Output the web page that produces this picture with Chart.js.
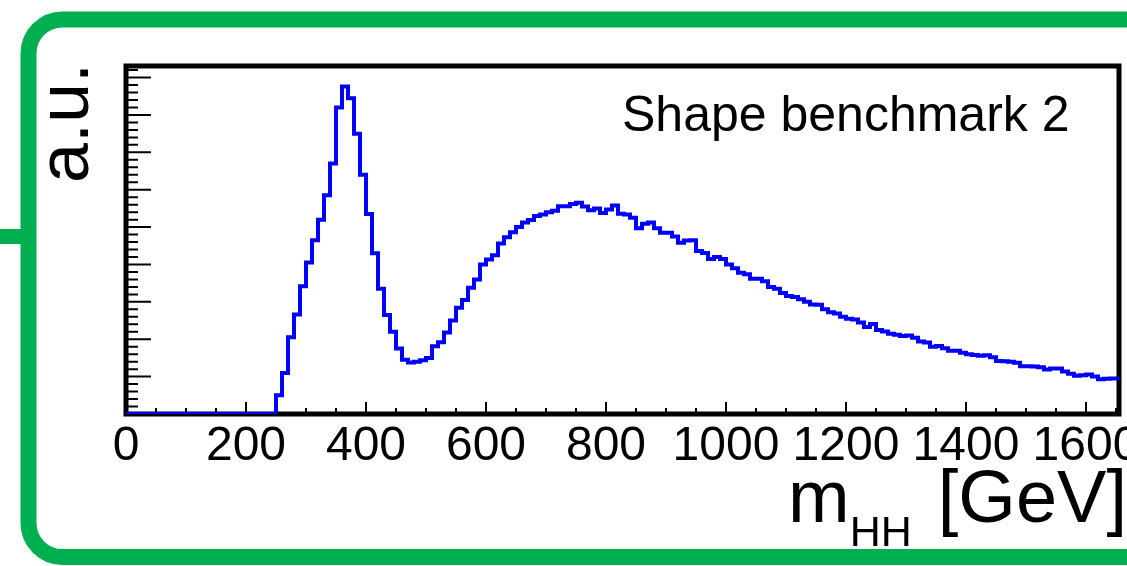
<!DOCTYPE html>
<html>
<head>
<meta charset="utf-8">
<script src="https://cdn.jsdelivr.net/npm/chart.js@4/dist/chart.umd.min.js"></script>
<style>
  html, body { margin: 0; padding: 0; background: #fff; }
  canvas { display: block; }
</style>
</head>
<body>
<canvas id="mhhChart" width="1127" height="566"></canvas>
<script>
const FONT = '"Liberation Sans", Arial, Helvetica, sans-serif';
const GREEN = '#00b050';

/* ===== DATA ===== */
const BIN_WIDTH = 10; // GeV per bin, first bin starts at 0
// m_HH shape (a.u.), one value per 10 GeV bin
const shapeValues = [
  0, 0, 0, 0, 0, 0, 0, 0, 0, 0, 0, 0, 0, 0, 0, 0, 0, 0, 0, 0, 0, 0, 0, 0, 0,
  0.5, 1.1, 2.05, 2.66, 3.42, 4.05, 4.65, 5.2, 5.85, 6.7,
  8.2, 8.76, 8.45, 7.5, 6.4, 5.35, 4.3, 3.35, 2.65, 2.2,
  1.75, 1.45, 1.38, 1.4, 1.44, 1.5, 1.81, 1.92, 2.18, 2.5,
  2.84, 3.05, 3.38, 3.6, 4.0, 4.13, 4.25, 4.56, 4.73, 4.86,
  5.0, 5.12, 5.19, 5.3, 5.34, 5.4, 5.44, 5.56, 5.56, 5.62,
  5.65, 5.55, 5.45, 5.5, 5.38, 5.47, 5.58, 5.36, 5.34, 5.25,
  4.97, 5.09, 5.12, 4.97, 4.85, 4.85, 4.75, 4.58, 4.64, 4.65,
  4.36, 4.31, 4.15, 4.2, 4.15, 4.0, 3.9, 3.78, 3.74, 3.62,
  3.62, 3.55, 3.4, 3.35, 3.24, 3.16, 3.13, 3.07, 3.0, 2.93,
  2.92, 2.8, 2.72, 2.69, 2.6, 2.55, 2.53, 2.45, 2.33, 2.41,
  2.25, 2.21, 2.15, 2.12, 2.09, 2.1, 2.04, 1.94, 1.91, 1.8,
  1.82, 1.76, 1.69, 1.69, 1.64, 1.6, 1.58, 1.56, 1.57, 1.52,
  1.42, 1.41, 1.4, 1.37, 1.28, 1.28, 1.27, 1.25, 1.19, 1.22,
  1.22, 1.14, 1.08, 1.02, 1.04, 1.06, 1.0, 0.93, 0.94, 0.95,
  0.95
];
const binEdges = Array.from({ length: shapeValues.length + 1 }, (_, i) => i * BIN_WIDTH);

const xMajorTicks = [0, 200, 400, 600, 800, 1000, 1200, 1400, 1600];
const xMinorStep = 50;
const yMajorTicks = [1, 2, 3, 4, 5, 6, 7, 8, 9];
const yMinorStep = 0.2;

const X_MAX = 1655;
const Y_MAX = 9.31;

// step histogram: each point is a bin low edge, last point closes the last bin
const histPoints = binEdges.map((edge, i) => ({
  x: edge,
  y: shapeValues[Math.min(i, shapeValues.length - 1)]
}));

/* ===== ROOT-like frame, ticks, labels ===== */
const rootStyle = {
  id: "rootStyle",
  beforeDraw(chart) {
    const ctx = chart.ctx;
    ctx.save();
    ctx.fillStyle = "#fff";
    ctx.fillRect(0, 0, chart.width, chart.height);

    // green rounded box around the pad
    const l = 28.5, t = 19.5, r = 1200, b = 557, rad = 34;
    ctx.strokeStyle = GREEN;
    ctx.lineWidth = 16;
    ctx.beginPath();
    ctx.moveTo(l + rad, t);
    ctx.lineTo(r, t);
    ctx.lineTo(r, b);
    ctx.lineTo(l + rad, b);
    ctx.arcTo(l, b, l, b - rad, rad);
    ctx.lineTo(l, t + rad);
    ctx.arcTo(l, t, l + rad, t, rad);
    ctx.closePath();
    ctx.stroke();
    ctx.fillStyle = GREEN;
    ctx.fillRect(0, 229, 30, 15);
    ctx.restore();
  },
  beforeDatasetsDraw(chart) {
    const { ctx, chartArea: a, scales: { x, y } } = chart;
    ctx.save();
    ctx.strokeStyle = "#000";
    ctx.lineWidth = 2;
    ctx.beginPath();
    for (let i = 1; i * xMinorStep < X_MAX; i++) {
      const v = i * xMinorStep;
      const px = x.getPixelForValue(v);
      const len = xMajorTicks.includes(v) ? 12 : 6;
      ctx.moveTo(px, a.bottom);
      ctx.lineTo(px, a.bottom - len);
    }
    for (let i = 1; i * yMinorStep < Y_MAX; i++) {
      const v = i * yMinorStep;
      const py = y.getPixelForValue(v);
      const major = yMajorTicks.some(m => Math.abs(m - v) < 1e-6);
      ctx.moveTo(a.left, py);
      ctx.lineTo(a.left + (major ? 25 : 12), py);
    }
    ctx.stroke();

    ctx.lineWidth = 5;
    ctx.strokeRect(a.left, a.top, a.right - a.left, a.bottom - a.top);
    ctx.restore();
  },
  afterDraw(chart) {
    const ctx = chart.ctx;
    ctx.save();
    ctx.fillStyle = "#000";
    ctx.textBaseline = "alphabetic";

    // label in the pad
    ctx.font = "50px " + FONT;
    ctx.textAlign = "left";
    ctx.fillText("Shape benchmark 2", 622, 131);

    // y title
    ctx.save();
    ctx.translate(88, 63);
    ctx.rotate(-Math.PI / 2);
    ctx.font = "72px " + FONT;
    ctx.textAlign = "right";
    ctx.fillText("a.u.", 0, 0);
    ctx.restore();

    // x title m_HH [GeV], right aligned
    const mainFont = "74px " + FONT;
    const subFont = "43px " + FONT;
    ctx.font = mainFont;
    const wM = ctx.measureText("m").width;
    const wUnit = ctx.measureText("[GeV]").width;
    ctx.font = subFont;
    const wSub = ctx.measureText("HH").width;
    const gap = 26;
    const xRight = 1127;
    let xs = xRight - (wM + wSub + gap + wUnit);
    ctx.textAlign = "left";
    ctx.font = mainFont;
    ctx.fillText("m", xs, 522);
    xs += wM;
    ctx.font = subFont;
    ctx.fillText("HH", xs, 546);
    xs += wSub + gap;
    ctx.font = mainFont;
    ctx.fillText("[GeV]", xs, 522);
    ctx.restore();
  }
};

/* ===== CHART ===== */
new Chart(document.getElementById("mhhChart"), {
  type: "line",
  data: {
    datasets: [{
      data: histPoints,
      borderColor: "#0000ff",
      borderWidth: 4,
      stepped: "before",
      pointRadius: 0,
      fill: false
    }]
  },
  options: {
    responsive: false,
    animation: false,
    layout: { padding: { left: 126, right: 8, top: 66, bottom: 0 } },
    plugins: { legend: { display: false }, tooltip: { enabled: false } },
    scales: {
      x: {
        type: "linear",
        min: 0,
        max: X_MAX,
        grid: { display: false, drawTicks: false },
        border: { display: false },
        ticks: {
          color: "#000",
          font: { family: FONT, size: 48 },
          padding: 4,
          autoSkip: false,
          maxRotation: 0,
          callback: v => String(v)
        },
        afterBuildTicks(scale) {
          scale.ticks = xMajorTicks.map(v => ({ value: v }));
        },
        afterFit(scale) {
          scale.height = 152;
          scale.paddingLeft = 0;
          scale.paddingRight = 0;
        }
      },
      y: {
        display: false,
        min: 0,
        max: Y_MAX
      }
    }
  },
  plugins: [rootStyle]
});
</script>
</body>
</html>
